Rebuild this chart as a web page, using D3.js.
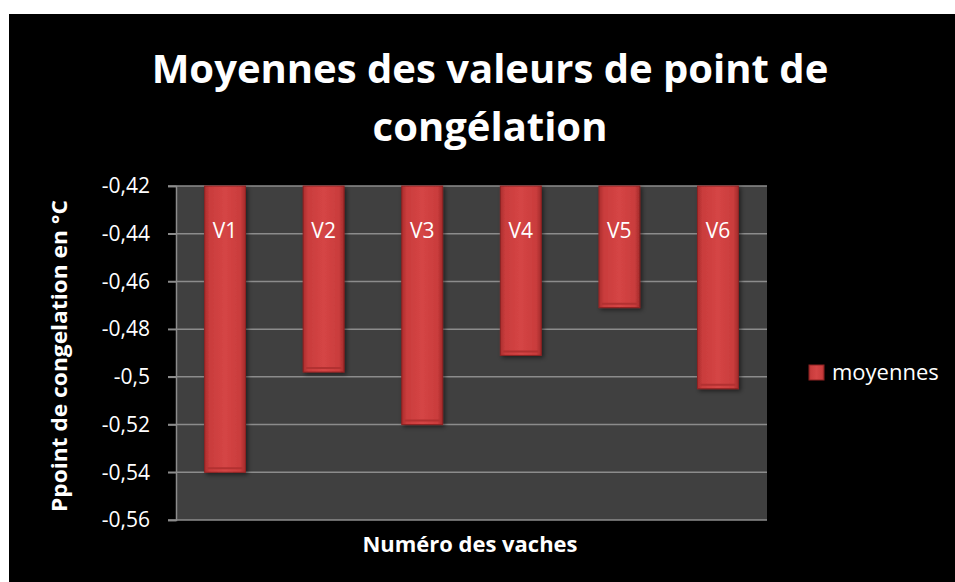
<!DOCTYPE html>
<html>
<head>
<meta charset="utf-8">
<script src="https://cdn.jsdelivr.net/npm/d3@7"></script>
<style>
  body { margin: 0; background: #fff; }
  svg text { font-family: "Open Sans", "Noto Sans", sans-serif; fill: #fff; }
</style>
</head>
<body>
<div id="chart"></div>
<script>
// data
const categories = ["V1", "V2", "V3", "V4", "V5", "V6"]
const moyennes = [-0.540, -0.498, -0.520, -0.491, -0.471, -0.505]
const yTicks = [-0.42, -0.44, -0.46, -0.48, -0.5, -0.52, -0.54, -0.56]
const titleLines = ["Moyennes des valeurs de point de", "congélation"]
const seriesName = "moyennes"

const width = 955
const height = 582
const margin = { top: 186, right: 188, bottom: 62, left: 176 }

const svg = d3.select("#chart").append("svg")
    .attr("width", width)
    .attr("height", height)

const defs = svg.append("defs")
const grad = defs.append("linearGradient")
    .attr("id", "barGrad")
    .attr("x1", "0%").attr("x2", "100%")
grad.append("stop").attr("offset", "0%").attr("stop-color", "#ab2e2e")
grad.append("stop").attr("offset", "12%").attr("stop-color", "#c93c3c")
grad.append("stop").attr("offset", "50%").attr("stop-color", "#d54545")
grad.append("stop").attr("offset", "88%").attr("stop-color", "#c93c3c")
grad.append("stop").attr("offset", "100%").attr("stop-color", "#a22b2b")

const shadow = defs.append("filter").attr("id", "shadow")
    .attr("x", "-20%").attr("y", "-5%").attr("width", "150%").attr("height", "115%")
shadow.append("feDropShadow")
    .attr("dx", 2).attr("dy", 2).attr("stdDeviation", 2)
    .attr("flood-color", "#000").attr("flood-opacity", 0.5)

// chart background
svg.append("rect")
    .attr("x", 9).attr("y", 14)
    .attr("width", width - 9).attr("height", height - 14)
    .attr("fill", "#000")

const plotW = width - margin.left - margin.right
const plotH = height - margin.top - margin.bottom

const x = d3.scaleBand()
    .domain(categories)
    .range([margin.left, margin.left + plotW])
    .paddingInner(0.585)
    .paddingOuter(0.29)

const y = d3.scaleLinear()
    .domain([-0.56, -0.42])
    .range([margin.top + plotH, margin.top])

svg.append("rect")
    .attr("x", margin.left).attr("y", margin.top)
    .attr("width", plotW).attr("height", plotH)
    .attr("fill", "#404040")

// gridlines
svg.append("g")
    .selectAll("line")
    .data(yTicks)
    .join("line")
    .attr("x1", margin.left - 8)
    .attr("x2", margin.left + plotW)
    .attr("y1", d => y(d))
    .attr("y2", d => y(d))
    .attr("stroke", "#8c8c8c")
    .attr("stroke-width", 1.5)

// y axis, french decimal comma and plain hyphen
const yAxis = svg.append("g")
    .attr("transform", `translate(${margin.left},0)`)
    .call(d3.axisLeft(y).tickValues(yTicks).tickSize(8).tickPadding(18)
        .tickFormat(d => String(+d.toFixed(2)).replace(".", ",")))
yAxis.select(".domain").attr("stroke", "#8c8c8c").attr("stroke-width", 1.5)
yAxis.selectAll(".tick line").attr("stroke", "#8c8c8c").attr("stroke-width", 1.5)
yAxis.selectAll(".tick text")
    .attr("fill", "#fff")
    .style("font-size", "21px")
    .style("font-family", "'Open Sans', sans-serif")

// bars hang down from the top of the axis
const bars = svg.append("g")
bars.selectAll("rect")
    .data(moyennes)
    .join("rect")
    .attr("x", (d, i) => x(categories[i]))
    .attr("y", y(-0.42))
    .attr("width", x.bandwidth())
    .attr("height", d => y(d) - y(-0.42))
    .attr("fill", "url(#barGrad)")
    .attr("stroke", "#8e2222")
    .attr("stroke-width", 1)
    .attr("filter", "url(#shadow)")

// bevel at the bottom of each bar
bars.selectAll("line.bevel")
    .data(moyennes)
    .join("line")
    .attr("class", "bevel")
    .attr("x1", (d, i) => x(categories[i]) + 3)
    .attr("x2", (d, i) => x(categories[i]) + x.bandwidth() - 3)
    .attr("y1", d => y(d) - 4)
    .attr("y2", d => y(d) - 4)
    .attr("stroke", "#b23131")
    .attr("stroke-width", 2)

// category labels inside bars
svg.append("g")
    .selectAll("text")
    .data(categories)
    .join("text")
    .attr("x", d => x(d) + x.bandwidth() / 2)
    .attr("y", 238)
    .attr("text-anchor", "middle")
    .style("font-size", "21px")
    .text(d => d)

// title
svg.append("g")
    .selectAll("text")
    .data(titleLines)
    .join("text")
    .attr("x", 490)
    .attr("y", (d, i) => 83 + i * 58)
    .attr("text-anchor", "middle")
    .style("font-size", "40px")
    .style("font-weight", "bold")
    .text(d => d)

// axis titles
svg.append("text")
    .attr("transform", "translate(67,356) rotate(-90)")
    .attr("text-anchor", "middle")
    .attr("textLength", 312)
    .attr("lengthAdjust", "spacingAndGlyphs")
    .style("font-size", "21px")
    .style("font-weight", "bold")
    .text("Ppoint de congelation en °C")

svg.append("text")
    .attr("x", 470)
    .attr("y", 552)
    .attr("text-anchor", "middle")
    .attr("textLength", 215)
    .attr("lengthAdjust", "spacingAndGlyphs")
    .style("font-size", "21px")
    .style("font-weight", "bold")
    .text("Numéro des vaches")

// legend
const legend = svg.append("g").attr("transform", "translate(809,365)")
legend.append("rect")
    .attr("width", 15).attr("height", 15)
    .attr("fill", "url(#barGrad)")
    .attr("stroke", "#8e2222")
legend.append("text")
    .attr("x", 23).attr("y", 15)
    .style("font-size", "22px")
    .text(seriesName)
</script>
</body>
</html>
